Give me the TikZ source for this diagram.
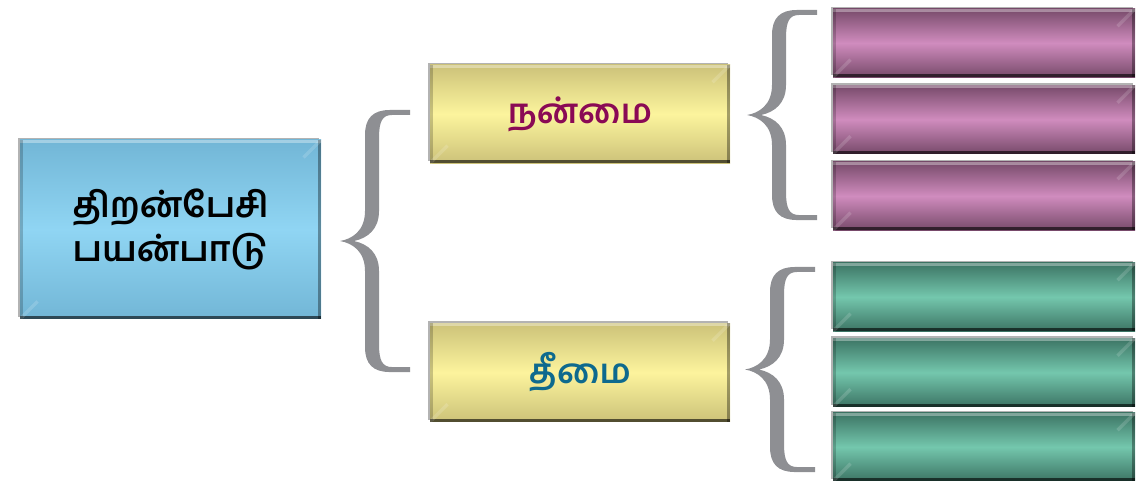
\documentclass[tikz,border=0pt]{standalone}
\usepackage{fontspec}
\newfontfamily\tamil[Script=Tamil]{Hind Madurai}
\usetikzlibrary{shadows}

\definecolor{bluedark}{HTML}{72B6D6}
\definecolor{bluelight}{HTML}{90D5F3}
\definecolor{yellowdark}{HTML}{CCC279}
\definecolor{yellowlight}{HTML}{FCF49D}
\definecolor{pinkdark}{HTML}{774A6A}
\definecolor{pinklight}{HTML}{D08CBE}
\definecolor{greendark}{HTML}{3C7464}
\definecolor{greenlight}{HTML}{74C7AD}
\definecolor{bracegray}{HTML}{8E8F93}
\definecolor{goodtext}{HTML}{8A0A55}
\definecolor{badtext}{HTML}{0E6A8E}

\tikzset{
  glass/.style 2 args={draw=none, inner sep=0pt,
    top color=#1, bottom color=#1, middle color=#2,
    drop shadow={shadow xshift=-0.035cm, shadow yshift=0.035cm, opacity=0.6},
    path picture={
      \fill[white, opacity=0.35] (path picture bounding box.north west) rectangle ([yshift=-0.06cm]path picture bounding box.north east);
      \fill[black, opacity=0.6] (path picture bounding box.south west) rectangle ([yshift=0.06cm]path picture bounding box.south east);
      \fill[black, opacity=0.35] (path picture bounding box.north east) rectangle ([xshift=-0.07cm]path picture bounding box.south east);
      \fill[black, opacity=0.2] (path picture bounding box.north west) rectangle ([xshift=0.05cm]path picture bounding box.south west);
      \draw[white, opacity=0.15, line width=2pt] (path picture bounding box.south west) -- ++(0.35,0.35);
      \draw[white, opacity=0.15, line width=2pt] (path picture bounding box.north east) -- ++(-0.35,-0.35);
    }},
  mainbox/.style={glass={bluedark}{bluelight}, minimum width=6.02cm, minimum height=3.58cm,
    align=center, font=\tamil\bfseries\fontsize{20}{25}\selectfont},
  sidebox/.style={glass={yellowdark}{yellowlight}, minimum width=6cm, minimum height=1.97cm,
    font=\tamil\bfseries\fontsize{19.5}{24}\selectfont},
  pinkbox/.style={glass={pinkdark}{pinklight}, minimum width=6.04cm, minimum height=1.37cm},
  greenbox/.style={glass={greendark}{greenlight}, minimum width=6.04cm, minimum height=1.37cm},
}

% curly brace: tip x, top y, length (cm)
\newcommand{\curly}[3]{%
  \begin{scope}[shift={(#1,#2)}, x=0.02cm, y=-0.02cm]
    \pgfmathsetmacro{\brlen}{#3/0.02}
    \pgfmathsetmacro{\brmid}{\brlen/2}
    \fill[bracegray] (70,0) -- (50,0) .. controls (33,0) and (25,8) .. (25,25)
      -- (25,\brmid-30) .. controls (25,\brmid-10) and (12,\brmid-2) .. (0,\brmid)
      .. controls (12,\brmid+2) and (25,\brmid+10) .. (25,\brmid+30)
      -- (25,\brlen-25) .. controls (25,\brlen-8) and (33,\brlen) .. (50,\brlen)
      -- (70,\brlen) -- (70,\brlen-5) -- (52,\brlen-5) .. controls (42,\brlen-5) and (39,\brlen-12) .. (39,\brlen-28)
      -- (39,\brmid+30) .. controls (39,\brmid+12) and (28,\brmid+3) .. (14,\brmid)
      .. controls (28,\brmid-3) and (39,\brmid-12) .. (39,\brmid-30)
      -- (39,28) .. controls (39,12) and (42,5) .. (52,5) -- (70,5) -- cycle;
  \end{scope}}

\begin{document}
\begin{tikzpicture}
	\useasboundingbox (0,0) rectangle (22.82,9.62);
	% Main
	\node[mainbox] (app) at (3.41,5.03) {திறன்பேசி\\பயன்பாடு};
	% Good / bad
	\node[sidebox, text=goodtext] (good) at (11.6,7.34) {நன்மை};
	\node[sidebox, text=badtext] (bad) at (11.6,2.17) {தீமை};
	% Braces
	\curly{6.8}{7.42}{5.24}
	\curly{14.94}{9.42}{4.2}
	\curly{14.9}{4.28}{4.1}
	% Pink
	\foreach \i/\y in {1/8.76, 2/7.23, 3/5.70} {
		\node[pinkbox] (good\i) at (19.68,\y) {};
	}
	% Green
	\foreach \i/\y in {1/3.68, 2/2.17, 3/0.68} {
		\node[greenbox] (bad\i) at (19.68,\y) {};
	}
\end{tikzpicture}
\end{document}
